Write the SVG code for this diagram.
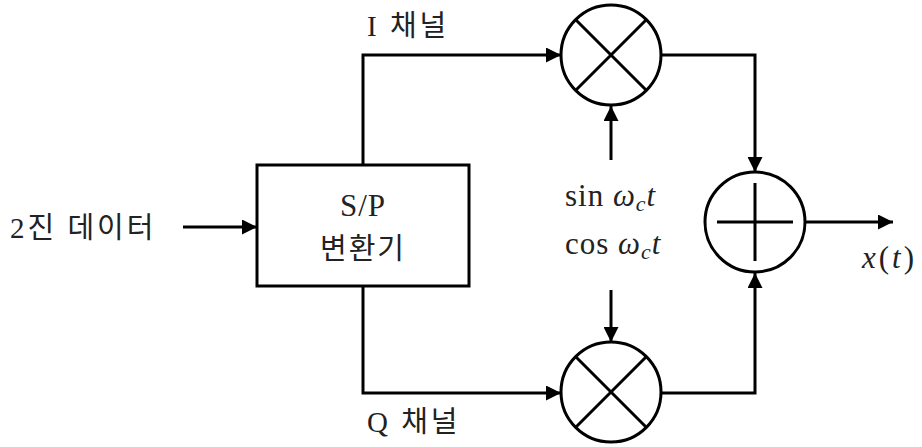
<svg xmlns="http://www.w3.org/2000/svg" width="922" height="447" viewBox="0 0 922 447">
<style>
.w{fill:none;stroke:#000;stroke-width:3}
.n{fill:#fff;stroke:#000;stroke-width:3}
.k{font-family:"Liberation Serif","Noto Sans CJK KR",serif;font-size:29px;fill:#222}
.m{font-family:"Liberation Serif","DejaVu Serif",serif;font-size:31px;fill:#222}
</style>
<defs>
<marker id="a" viewBox="0 0 10 10" refX="10" refY="5" markerWidth="5" markerHeight="5" orient="auto" markerUnits="strokeWidth">
<path d="M0,0L10,5L0,10z" fill="#000"/>
</marker>
</defs>
<g id="connectors">
<path class="w" d="M183,227H257" marker-end="url(#a)"/>
<path class="w" d="M363,165V55H561" marker-end="url(#a)"/>
<path class="w" d="M363,286V393H561" marker-end="url(#a)"/>
<path class="w" d="M611,160V106" marker-end="url(#a)"/>
<path class="w" d="M611,290V342" marker-end="url(#a)"/>
<path class="w" d="M661,55H755V172" marker-end="url(#a)"/>
<path class="w" d="M661,393H755V273" marker-end="url(#a)"/>
<path class="w" d="M805,222H893" marker-end="url(#a)"/>
</g>
<g id="sp">
<rect class="n" x="257" y="165" width="212" height="121"/>
<text class="m" x="363" y="216" text-anchor="middle" font-size="32" letter-spacing="1">S/P</text>
<text class="k" x="363" y="259" text-anchor="middle" font-size="31" letter-spacing="2">변환기</text>
</g>
<g id="mulI">
<circle class="n" cx="611" cy="55" r="50"/>
<path class="w" d="M576,20L646,90M646,20L576,90"/>
</g>
<g id="mulQ">
<circle class="n" cx="611" cy="392" r="50"/>
<path class="w" d="M576,357L646,427M646,357L576,427"/>
</g>
<g id="sum">
<circle class="n" cx="755" cy="222" r="50"/>
<path class="w" d="M755,183V261M717,222H793"/>
</g>
<g id="labels">
<text class="k" x="10" y="238" letter-spacing="3">2진 데이터</text>
<text class="k" x="367" y="36" letter-spacing="3">I 채널</text>
<text class="k" x="367" y="432" letter-spacing="3">Q 채널</text>
<text class="m" x="565" y="206" letter-spacing="1">sin <tspan font-style="italic">ω</tspan><tspan font-style="italic" font-size="22" dy="5">c</tspan><tspan font-style="italic" dy="-5">t</tspan></text>
<text class="m" x="565" y="254" letter-spacing="1">cos <tspan font-style="italic">ω</tspan><tspan font-style="italic" font-size="22" dy="5">c</tspan><tspan font-style="italic" dy="-5">t</tspan></text>
<text class="m" x="862" y="268" font-size="32" letter-spacing="3"><tspan font-style="italic">x</tspan>(<tspan font-style="italic">t</tspan>)</text>
</g>
</svg>
